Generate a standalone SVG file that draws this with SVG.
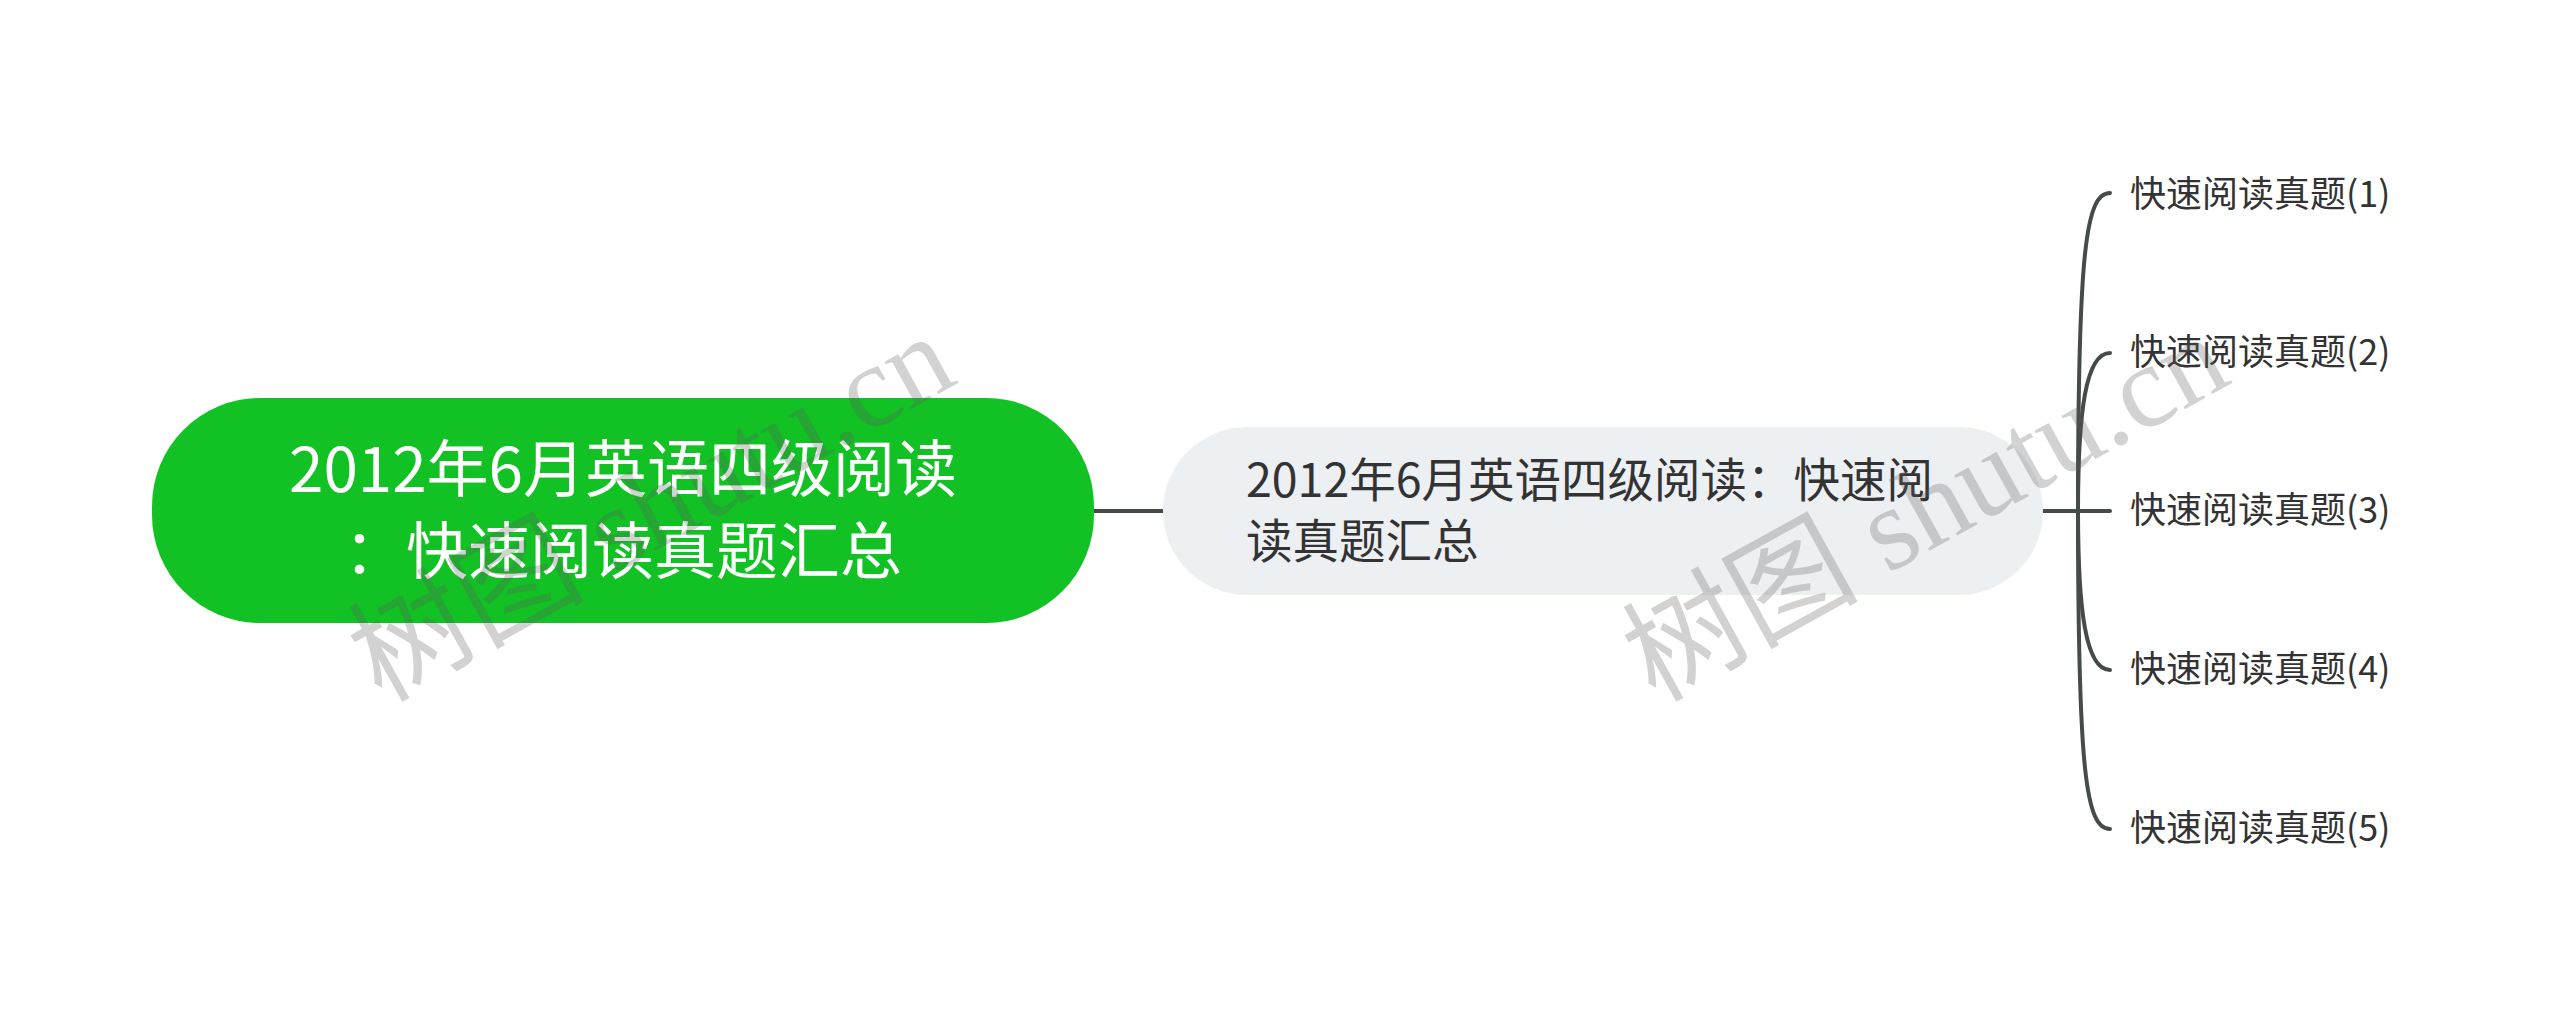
<svg xmlns="http://www.w3.org/2000/svg" width="2560" height="1023" viewBox="0 0 2560 1023">
<style>
.t{font-family:"Noto Sans CJK SC","Noto Sans",sans-serif}
.root{fill:#12c124}
.sub{fill:#edf0f3}
.rt{fill:#ffffff;font-size:62px}
.st{fill:#333333;font-size:46.5px}
.ct{fill:#333333;font-size:36px}
.ln{fill:none;stroke:#454b48;stroke-width:4;stroke-linecap:round}
.wm{font-family:"Liberation Serif","Noto Sans CJK SC",serif;font-size:118px;fill:#5f5f5f;fill-opacity:0.28}
</style>
<rect width="2560" height="1023" fill="#ffffff"/>
<g id="connectors">
<path class="ln" d="M1094,511 L1163,511"/>
<path class="ln" d="M2043,511 L2110,511"/>
<path class="ln" d="M2078,511 C2078,250 2086,193 2110,193"/>
<path class="ln" d="M2078,511 C2078,410 2086,353 2110,353"/>
<path class="ln" d="M2078,511 C2078,612 2086,670 2110,670"/>
<path class="ln" d="M2078,511 C2078,772 2086,829 2110,829"/>
</g>
<g id="root">
<rect class="root" x="152" y="398" width="942" height="225" rx="108"/>
<text class="t rt" x="623" y="492" text-anchor="middle">2012年6月英语四级阅读</text>
<text class="t rt" x="623" y="574" text-anchor="middle">：快速阅读真题汇总</text>
</g>
<g id="sub">
<rect class="sub" x="1163" y="427" width="880" height="168" rx="84"/>
<text class="t st" x="1246" y="497">2012年6月英语四级阅读：快速阅</text>
<text class="t st" x="1246" y="558">读真题汇总</text>
</g>
<g id="c1"><text class="t ct" x="2130" y="207">快速阅读真题(1)</text></g>
<g id="c2"><text class="t ct" x="2130" y="365">快速阅读真题(2)</text></g>
<g id="c3"><text class="t ct" x="2130" y="523">快速阅读真题(3)</text></g>
<g id="c4"><text class="t ct" x="2130" y="682">快速阅读真题(4)</text></g>
<g id="c5"><text class="t ct" x="2130" y="841">快速阅读真题(5)</text></g>
<g id="watermark">
<text class="wm" transform="translate(381,703) rotate(-29)">树图 shutu.cn</text>
<text class="wm" transform="translate(1655,703) rotate(-29)">树图 shutu.cn</text>
</g>
</svg>
